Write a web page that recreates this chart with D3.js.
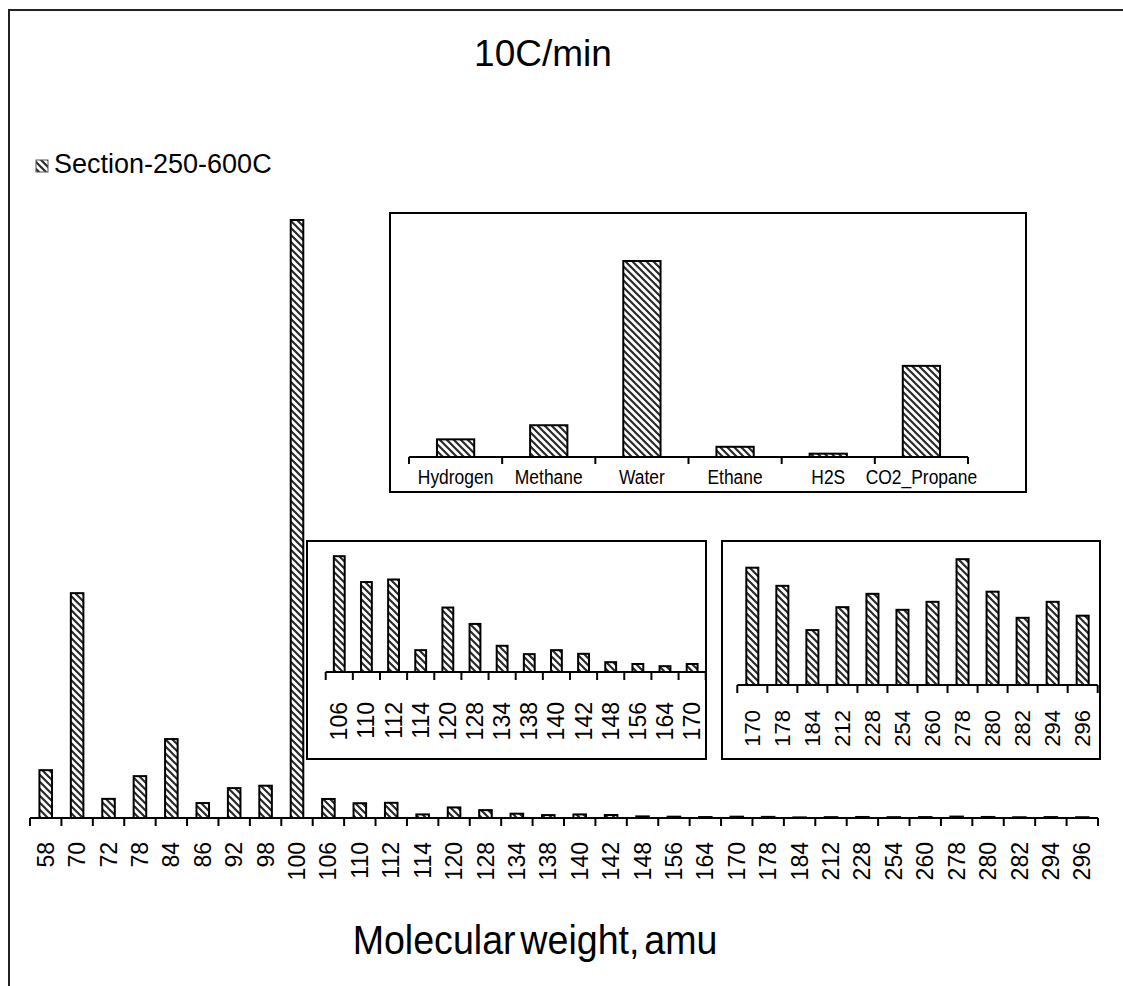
<!DOCTYPE html>
<html><head><meta charset="utf-8">
<script src="https://cdn.jsdelivr.net/npm/d3@7"></script>
<style>
body{margin:0;background:#fff}
svg{display:block}
text{font-family:"Liberation Sans",Arial,sans-serif;fill:#000}
</style>
</head><body>
<svg id="c" width="1123" height="986"></svg>
<script>
// ---------- data ----------
const chartTitle = "10C/min";
const seriesName = "Section-250-600C";
const xTitle = "Molecular weight, amu";

const massLabels = ["58","70","72","78","84","86","92","98","100","106","110","112","114","120","128","134","138","140","142","148","156","164","170","178","184","212","228","254","260","278","280","282","294","296"];
const massValues = [8.0,37.6,3.2,7.0,13.2,2.5,5.0,5.4,100,3.18,2.47,2.54,0.60,1.77,1.32,0.72,0.49,0.60,0.50,0.27,0.22,0.16,0.22,0.186,0.103,0.146,0.171,0.141,0.156,0.236,0.175,0.126,0.156,0.130];

const lowInsetLabels = ["106","110","112","114","120","128","134","138","140","142","148","156","164","170"];
const highInsetLabels = ["170","178","184","212","228","254","260","278","280","282","294","296"];

const gasLabels = ["Hydrogen","Methane","Water","Ethane","H2S","CO2_Propane"];
const gasValues = [9.0,16.2,100,5.2,1.7,46.5];

// ---------- drawing ----------
const svg = d3.select("#c");
const defs = svg.append("defs");
const pat = defs.append("pattern").attr("id","hatch").attr("patternUnits","userSpaceOnUse")
  .attr("width",7).attr("height",7);
pat.append("rect").attr("width",7).attr("height",7).attr("fill","#fff");
pat.append("path").attr("d","M-1,-1L8,8M-1,6L1,8M6,-1L8,1").attr("stroke","#2a2a2a").attr("stroke-width",2.2);

const valueOf = new Map(massLabels.map((m,i)=>[m,massValues[i]]));

// outer frame
svg.append("rect").attr("x",9).attr("y",10).attr("width",1200).attr("height",1100)
  .attr("fill","none").attr("stroke","#222").attr("stroke-width",2);

function barPanel(opt){
  const g = svg.append("g");
  const x = d3.scaleBand().domain(opt.cats).range([opt.x0,opt.x1]).paddingInner(0.6).paddingOuter(0.3);
  const y = d3.scaleLinear().domain([0,opt.ymax]).range([opt.base,opt.top]);
  const half = x.step()*0.3;
  g.selectAll("rect.bar").data(opt.cats).join("rect").attr("class","bar")
    .attr("x",d=>x(d)).attr("width",x.bandwidth())
    .attr("y",(d,i)=>y(opt.vals[i])).attr("height",(d,i)=>opt.base-y(opt.vals[i]))
    .attr("fill","url(#hatch)").attr("stroke","#000").attr("stroke-width",2);
  g.append("line").attr("x1",opt.x0).attr("x2",opt.x1).attr("y1",opt.base).attr("y2",opt.base)
    .attr("stroke","#000").attr("stroke-width",2);
  const ticks = opt.cats.map(d=>x(d)-half).concat([opt.x1]);
  g.selectAll("line.tk").data(ticks).join("line").attr("class","tk")
    .attr("x1",d=>d).attr("x2",d=>d).attr("y1",opt.base).attr("y2",opt.base+opt.tick)
    .attr("stroke","#000").attr("stroke-width",2);
  if(opt.rotated){
    g.selectAll("text.lb").data(opt.cats).join("text").attr("class","lb")
      .attr("transform",d=>`translate(${x(d)+x.bandwidth()/2},${opt.labelY}) rotate(-90)`)
      .attr("text-anchor","end").attr("dy","0.35em")
      .style("font-size",opt.fs+"px").text(d=>d);
  } else {
    g.selectAll("text.lb").data(opt.cats).join("text").attr("class","lb")
      .attr("transform",d=>`translate(${x(d)+x.bandwidth()/2},${opt.labelY}) scale(0.83,1)`)
      .attr("text-anchor","middle")
      .style("font-size",opt.fs+"px").text(d=>d);
  }
}

// main chart
barPanel({cats:massLabels, vals:massValues, x0:30, x1:1098, base:818, top:220, ymax:100,
  tick:8, rotated:true, labelY:842, fs:23});

// inset boxes
svg.append("rect").attr("x",390).attr("y",213).attr("width",636).attr("height",279)
  .attr("fill","#fff").attr("stroke","#000").attr("stroke-width",2);
svg.append("rect").attr("x",307).attr("y",541).attr("width",399).attr("height",218)
  .attr("fill","#fff").attr("stroke","#000").attr("stroke-width",2);
svg.append("rect").attr("x",722).attr("y",541).attr("width",378).attr("height",218)
  .attr("fill","#fff").attr("stroke","#000").attr("stroke-width",2);

barPanel({cats:gasLabels, vals:gasValues, x0:409, x1:968, base:457, top:221.8, ymax:120,
  tick:7, rotated:false, labelY:484, fs:21});
barPanel({cats:lowInsetLabels, vals:lowInsetLabels.map(d=>valueOf.get(d)), x0:325.7, x1:705.7,
  base:672, top:550, ymax:3.35, tick:8, rotated:true, labelY:702, fs:23});
barPanel({cats:highInsetLabels, vals:highInsetLabels.map(d=>valueOf.get(d)), x0:737.3, x1:1097.7,
  base:685, top:551.7, ymax:0.25, tick:8, rotated:true, labelY:710, fs:22});

// titles
svg.append("text").attr("x",543).attr("y",66).attr("text-anchor","middle")
  .style("font-size","37px").text(chartTitle);
svg.append("text").attr("transform","translate(535,954) scale(0.94,1)").attr("text-anchor","middle")
  .style("font-size","40px").style("word-spacing","-6px").text(xTitle);

// legend
svg.append("rect").attr("x",36).attr("y",160).attr("width",12).attr("height",12)
  .attr("fill","url(#hatch)").attr("stroke","#555").attr("stroke-width",1);
svg.append("text").attr("x",54).attr("y",173).style("font-size","27px").text(seriesName);
</script>
</body></html>
